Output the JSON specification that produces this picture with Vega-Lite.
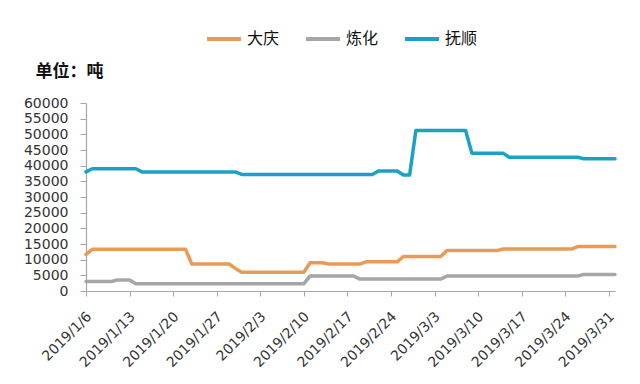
{
  "$schema": "https://vega.github.io/schema/vega-lite/v6.json",
  "width": 529,
  "height": 188,
  "autosize": {"type": "none"},
  "padding": {"left": 86, "top": 103, "right": 25, "bottom": 93},
  "background": "white",
  "config": {"view": {"stroke": null}, "font": "DejaVu Sans"},
  "data": {"values": [
    {"date": "2019-01-06", "大庆": 11700, "炼化": 3000, "抚顺": 38000},
    {"date": "2019-01-07", "大庆": 13300, "炼化": 3000, "抚顺": 39000},
    {"date": "2019-01-08", "大庆": 13300, "炼化": 3000, "抚顺": 39000},
    {"date": "2019-01-09", "大庆": 13300, "炼化": 3000, "抚顺": 39000},
    {"date": "2019-01-10", "大庆": 13300, "炼化": 3000, "抚顺": 39000},
    {"date": "2019-01-11", "大庆": 13300, "炼化": 3500, "抚顺": 39000},
    {"date": "2019-01-12", "大庆": 13300, "炼化": 3500, "抚顺": 39000},
    {"date": "2019-01-13", "大庆": 13300, "炼化": 3500, "抚顺": 39000},
    {"date": "2019-01-14", "大庆": 13300, "炼化": 2300, "抚顺": 39000},
    {"date": "2019-01-15", "大庆": 13300, "炼化": 2300, "抚顺": 38000},
    {"date": "2019-01-16", "大庆": 13300, "炼化": 2300, "抚顺": 38000},
    {"date": "2019-01-17", "大庆": 13300, "炼化": 2300, "抚顺": 38000},
    {"date": "2019-01-18", "大庆": 13300, "炼化": 2300, "抚顺": 38000},
    {"date": "2019-01-19", "大庆": 13300, "炼化": 2300, "抚顺": 38000},
    {"date": "2019-01-20", "大庆": 13300, "炼化": 2300, "抚顺": 38000},
    {"date": "2019-01-21", "大庆": 13300, "炼化": 2300, "抚顺": 38000},
    {"date": "2019-01-22", "大庆": 13300, "炼化": 2300, "抚顺": 38000},
    {"date": "2019-01-23", "大庆": 8600, "炼化": 2300, "抚顺": 38000},
    {"date": "2019-01-24", "大庆": 8600, "炼化": 2300, "抚顺": 38000},
    {"date": "2019-01-25", "大庆": 8600, "炼化": 2300, "抚顺": 38000},
    {"date": "2019-01-26", "大庆": 8600, "炼化": 2300, "抚顺": 38000},
    {"date": "2019-01-27", "大庆": 8600, "炼化": 2300, "抚顺": 38000},
    {"date": "2019-01-28", "大庆": 8600, "炼化": 2300, "抚顺": 38000},
    {"date": "2019-01-29", "大庆": 8600, "炼化": 2300, "抚顺": 38000},
    {"date": "2019-01-30", "大庆": 7200, "炼化": 2300, "抚顺": 38000},
    {"date": "2019-01-31", "大庆": 6000, "炼化": 2300, "抚顺": 37200},
    {"date": "2019-02-01", "大庆": 6000, "炼化": 2300, "抚顺": 37200},
    {"date": "2019-02-02", "大庆": 6000, "炼化": 2300, "抚顺": 37200},
    {"date": "2019-02-03", "大庆": 6000, "炼化": 2300, "抚顺": 37200},
    {"date": "2019-02-04", "大庆": 6000, "炼化": 2300, "抚顺": 37200},
    {"date": "2019-02-05", "大庆": 6000, "炼化": 2300, "抚顺": 37200},
    {"date": "2019-02-06", "大庆": 6000, "炼化": 2300, "抚顺": 37200},
    {"date": "2019-02-07", "大庆": 6000, "炼化": 2300, "抚顺": 37200},
    {"date": "2019-02-08", "大庆": 6000, "炼化": 2300, "抚顺": 37200},
    {"date": "2019-02-09", "大庆": 6000, "炼化": 2300, "抚顺": 37200},
    {"date": "2019-02-10", "大庆": 6000, "炼化": 2300, "抚顺": 37200},
    {"date": "2019-02-11", "大庆": 9000, "炼化": 4800, "抚顺": 37200},
    {"date": "2019-02-12", "大庆": 9000, "炼化": 4800, "抚顺": 37200},
    {"date": "2019-02-13", "大庆": 9000, "炼化": 4800, "抚顺": 37200},
    {"date": "2019-02-14", "大庆": 8600, "炼化": 4800, "抚顺": 37200},
    {"date": "2019-02-15", "大庆": 8600, "炼化": 4800, "抚顺": 37200},
    {"date": "2019-02-16", "大庆": 8600, "炼化": 4800, "抚顺": 37200},
    {"date": "2019-02-17", "大庆": 8600, "炼化": 4800, "抚顺": 37200},
    {"date": "2019-02-18", "大庆": 8600, "炼化": 4800, "抚顺": 37200},
    {"date": "2019-02-19", "大庆": 8600, "炼化": 3800, "抚顺": 37200},
    {"date": "2019-02-20", "大庆": 9300, "炼化": 3800, "抚顺": 37200},
    {"date": "2019-02-21", "大庆": 9300, "炼化": 3800, "抚顺": 37200},
    {"date": "2019-02-22", "大庆": 9300, "炼化": 3800, "抚顺": 38300},
    {"date": "2019-02-23", "大庆": 9300, "炼化": 3800, "抚顺": 38300},
    {"date": "2019-02-24", "大庆": 9300, "炼化": 3800, "抚顺": 38300},
    {"date": "2019-02-25", "大庆": 9300, "炼化": 3800, "抚顺": 38300},
    {"date": "2019-02-26", "大庆": 11000, "炼化": 3800, "抚顺": 37000},
    {"date": "2019-02-27", "大庆": 11000, "炼化": 3800, "抚顺": 37000},
    {"date": "2019-02-28", "大庆": 11000, "炼化": 3800, "抚顺": 51200},
    {"date": "2019-03-01", "大庆": 11000, "炼化": 3800, "抚顺": 51200},
    {"date": "2019-03-02", "大庆": 11000, "炼化": 3800, "抚顺": 51200},
    {"date": "2019-03-03", "大庆": 11000, "炼化": 3800, "抚顺": 51200},
    {"date": "2019-03-04", "大庆": 11000, "炼化": 3800, "抚顺": 51200},
    {"date": "2019-03-05", "大庆": 12900, "炼化": 4800, "抚顺": 51200},
    {"date": "2019-03-06", "大庆": 12900, "炼化": 4800, "抚顺": 51200},
    {"date": "2019-03-07", "大庆": 12900, "炼化": 4800, "抚顺": 51200},
    {"date": "2019-03-08", "大庆": 12900, "炼化": 4800, "抚顺": 51200},
    {"date": "2019-03-09", "大庆": 12900, "炼化": 4800, "抚顺": 44000},
    {"date": "2019-03-10", "大庆": 12900, "炼化": 4800, "抚顺": 44000},
    {"date": "2019-03-11", "大庆": 12900, "炼化": 4800, "抚顺": 44000},
    {"date": "2019-03-12", "大庆": 12900, "炼化": 4800, "抚顺": 44000},
    {"date": "2019-03-13", "大庆": 12900, "炼化": 4800, "抚顺": 44000},
    {"date": "2019-03-14", "大庆": 13400, "炼化": 4800, "抚顺": 44000},
    {"date": "2019-03-15", "大庆": 13400, "炼化": 4800, "抚顺": 42700},
    {"date": "2019-03-16", "大庆": 13400, "炼化": 4800, "抚顺": 42700},
    {"date": "2019-03-17", "大庆": 13400, "炼化": 4800, "抚顺": 42700},
    {"date": "2019-03-18", "大庆": 13400, "炼化": 4800, "抚顺": 42700},
    {"date": "2019-03-19", "大庆": 13400, "炼化": 4800, "抚顺": 42700},
    {"date": "2019-03-20", "大庆": 13400, "炼化": 4800, "抚顺": 42700},
    {"date": "2019-03-21", "大庆": 13400, "炼化": 4800, "抚顺": 42700},
    {"date": "2019-03-22", "大庆": 13400, "炼化": 4800, "抚顺": 42700},
    {"date": "2019-03-23", "大庆": 13400, "炼化": 4800, "抚顺": 42700},
    {"date": "2019-03-24", "大庆": 13400, "炼化": 4800, "抚顺": 42700},
    {"date": "2019-03-25", "大庆": 13400, "炼化": 4800, "抚顺": 42700},
    {"date": "2019-03-26", "大庆": 14200, "炼化": 4800, "抚顺": 42700},
    {"date": "2019-03-27", "大庆": 14200, "炼化": 5300, "抚顺": 42200},
    {"date": "2019-03-28", "大庆": 14200, "炼化": 5300, "抚顺": 42200},
    {"date": "2019-03-29", "大庆": 14200, "炼化": 5300, "抚顺": 42200},
    {"date": "2019-03-30", "大庆": 14200, "炼化": 5300, "抚顺": 42200},
    {"date": "2019-03-31", "大庆": 14200, "炼化": 5300, "抚顺": 42200},
    {"date": "2019-04-01", "大庆": 14200, "炼化": 5300, "抚顺": 42200}
  ]},
  "transform": [{"fold": ["大庆", "炼化", "抚顺"], "as": ["series", "value"]}],
  "mark": {"type": "line", "strokeWidth": 3.5, "strokeJoin": "round", "strokeCap": "round"},
  "encoding": {
    "x": {
      "field": "date", "type": "temporal",
      "scale": {"type": "utc", "nice": false, "domain": [{"year": 2019, "month": 1, "date": 6, "utc": true}, {"year": 2019, "month": 4, "date": 1, "utc": true}]},
      "axis": {
        "title": null, "grid": false, "format": "%Y/%-m/%-d",
        "tickCount": {"interval": "week", "step": 1},
        "labelAngle": -45, "labelAlign": "right", "labelBaseline": "middle",
        "labelPadding": 18, "labelOffset": 3, "labelFontSize": 14, "labelColor": "#333333",
        "labelFont": "DejaVu Sans", "labelOverlap": false, "labelFlush": false,
        "domainColor": "#A6A6A6", "tickColor": "#A6A6A6", "tickSize": 5, "domainWidth": 1.2
      }
    },
    "y": {
      "field": "value", "type": "quantitative",
      "scale": {"domain": [0, 60000], "nice": false},
      "axis": {
        "values": [0, 5000, 10000, 15000, 20000, 25000, 30000, 35000, 40000, 45000, 50000, 55000, 60000],
        "format": "d", "grid": false,
        "labelFontSize": 14, "labelColor": "#333333", "labelFont": "DejaVu Sans", "labelPadding": 12,
        "labelOverlap": false, "labelFlush": false,
        "domainColor": "#A6A6A6", "tickColor": "#A6A6A6", "tickSize": 6, "domainWidth": 1.2,
        "title": "单位：吨", "titleAngle": 0, "titleX": -17, "titleY": -32, "titleAlign": "center",
        "titleBaseline": "middle", "titleFont": "Noto Sans CJK SC", "titleFontSize": 17,
        "titleFontWeight": "bold", "titleColor": "#111111"
      }
    },
    "color": {
      "field": "series", "type": "nominal",
      "scale": {"domain": ["大庆", "炼化", "抚顺"], "range": ["#E99A55", "#A6A6A6", "#1BA1C6"]},
      "legend": {
        "title": null, "orient": "none", "direction": "horizontal", "legendX": 119, "legendY": -83,
        "symbolType": "stroke", "symbolSize": 1156, "symbolStrokeWidth": 4, "labelOffset": 4,
        "columnPadding": 18, "labelFont": "Noto Sans CJK SC", "labelFontSize": 16, "labelColor": "#111111",
        "padding": 0
      }
    }
  }
}
